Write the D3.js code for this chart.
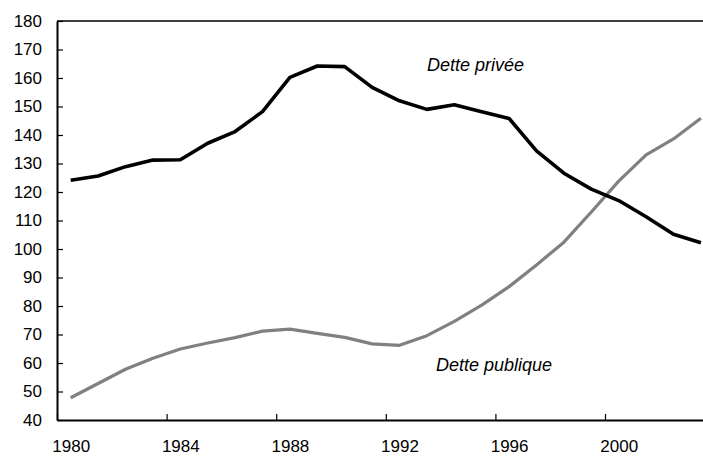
<!DOCTYPE html>
<html>
<head>
<meta charset="utf-8">
<script src="https://cdn.jsdelivr.net/npm/d3@7"></script>
<style>
  body { margin: 0; background: #fff; }
  svg { display: block; font-family: "Liberation Sans", Arial, sans-serif; }
</style>
</head>
<body>
<div id="chart"></div>
<script>
// data
var years = d3.range(1980, 2004);
var detteprivee = [124.1, 125.6, 128.9, 131.2, 131.3, 137.1, 141.2, 148.2, 160.2, 164.2, 164.0,
                   156.7, 152.0, 149.0, 150.6, 148.2, 145.8, 134.4, 126.6, 121.0, 117.0, 111.3, 105.2, 102.2];
var dettepublique = [47.8, 52.8, 57.8, 61.7, 64.9, 67.0, 68.9, 71.2, 71.9, 70.4, 69.0,
                     66.7, 66.2, 69.6, 74.6, 80.3, 86.8, 94.4, 102.4, 113.0, 123.8, 133.0, 138.6, 145.9];
var xTicks = [1980, 1984, 1988, 1992, 1996, 2000];
var yTicks = d3.range(40, 181, 10);

var width = 703, height = 457;
var plotLeft = 57, plotTop = 21, plotBottom = 420, yearW = 27.4;

var svg = d3.select("#chart")
  .append("svg")
    .attr("width", width)
    .attr("height", height);

// year scale: each year takes a slot, points sit in the middle of it
var x = d3.scaleLinear()
  .domain([1980, 2004])
  .range([plotLeft, plotLeft + 24 * yearW]);

var y = d3.scaleLinear()
  .domain([40, 180])
  .range([plotBottom, plotTop]);

// top border
svg.append("line")
  .attr("x1", plotLeft).attr("x2", x(2004))
  .attr("y1", plotTop).attr("y2", plotTop)
  .style("stroke", "#000")
  .style("stroke-width", 1.5);

// y axis
var gy = svg.append("g")
  .attr("transform", "translate(" + plotLeft + ",0)")
  .call(d3.axisLeft(y).tickValues(yTicks).tickSizeInner(-6).tickSizeOuter(0).tickPadding(15));
gy.select(".domain").style("stroke-width", 2);
gy.selectAll(".tick line").style("stroke-width", 1.2);
gy.selectAll("text").style("font-size", "17px").style("fill", "#000");

// x axis
var gx = svg.append("g")
  .attr("transform", "translate(0," + plotBottom + ")")
  .call(d3.axisBottom(x).tickValues(xTicks).tickFormat(d3.format("d")).tickSizeInner(-6).tickSizeOuter(0).tickPadding(20));
gx.select(".domain").style("stroke-width", 2);
gx.selectAll(".tick line").style("stroke-width", 1.2);
gx.selectAll("text")
  .attr("x", yearW / 2)
  .style("font-size", "17px")
  .style("fill", "#000");

var line = d3.line()
  .x(function(d, i) { return x(years[i] + 0.5); })
  .y(function(d) { return y(d); });

svg.append("path")
  .datum(dettepublique)
  .attr("d", line)
  .style("fill", "none")
  .style("stroke", "#808080")
  .style("stroke-width", 3.2)
  .style("stroke-linejoin", "round");

svg.append("path")
  .datum(detteprivee)
  .attr("d", line)
  .style("fill", "none")
  .style("stroke", "#000")
  .style("stroke-width", 3.6)
  .style("stroke-linejoin", "round");

// series labels
svg.append("text")
  .attr("x", 427)
  .attr("y", 71)
  .style("font-size", "18px")
  .style("font-style", "italic")
  .text("Dette privée");

svg.append("text")
  .attr("x", 436)
  .attr("y", 371)
  .style("font-size", "18px")
  .style("font-style", "italic")
  .text("Dette publique");
</script>
</body>
</html>
